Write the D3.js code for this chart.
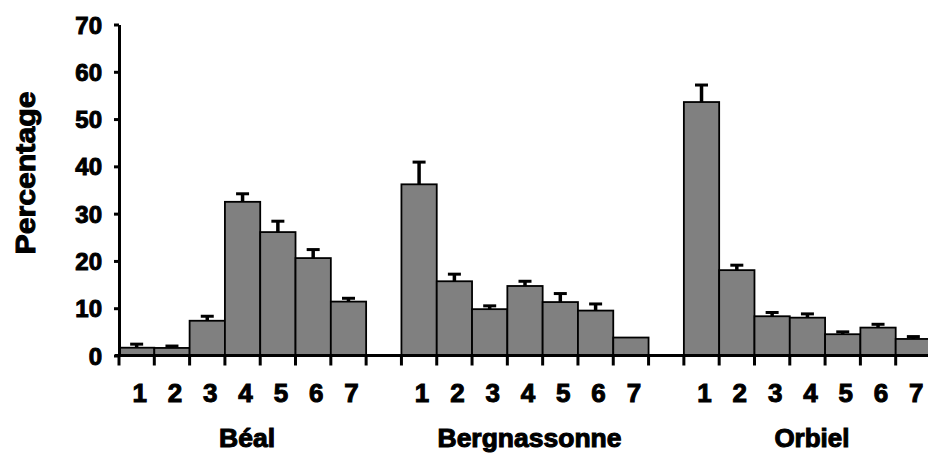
<!DOCTYPE html>
<html>
<head>
<meta charset="utf-8">
<script src="https://cdn.jsdelivr.net/npm/d3@7"></script>
<style>
  html, body { margin: 0; padding: 0; background: #fff; }
  text { font-family: "Liberation Sans", Arial, sans-serif; font-weight: bold; fill: #000; }
</style>
</head>
<body>
<svg id="chart" width="928" height="453"></svg>
<script>
// ---- data ----
const groups = ["Béal", "Bergnassonne", "Orbiel"];
const classes = ["1", "2", "3", "4", "5", "6", "7"];
const bealValues = [1.65, 1.6, 7.35, 32.5, 26.1, 20.6, 11.4];
const bealErrors = [0.75, 0.4, 0.95, 1.7, 2.3, 1.8, 0.7];
const bergValues = [36.2, 15.7, 9.8, 14.7, 11.3, 9.5, 3.8];
const bergErrors = [4.7, 1.5, 0.7, 1.0, 1.8, 1.4, 0];
const orbValues = [53.6, 18.05, 8.3, 8.0, 4.5, 5.9, 3.5];
const orbErrors = [3.6, 1.05, 0.8, 0.8, 0.5, 0.7, 0.5];
const yTicks = [0, 10, 20, 30, 40, 50, 60, 70];
const yLabel = "Percentage";

const seriesByGroup = {
  "Béal": { values: bealValues, errors: bealErrors },
  "Bergnassonne": { values: bergValues, errors: bergErrors },
  "Orbiel": { values: orbValues, errors: orbErrors }
};

const svg = d3.select("#chart");
const mLeft = 119, mRight = 931, mTop = 24.5, mBottom = 355.5;

const y = d3.scaleLinear().domain([0, 70]).range([mBottom, mTop]);
const xGroup = d3.scaleBand().domain(groups).range([mLeft, mRight]).paddingInner(1 / 8).paddingOuter(0);
const xInner = d3.scaleBand().domain(classes).range([0, xGroup.bandwidth()]).padding(0);

const data = [];
groups.forEach(g => classes.forEach((c, i) => {
  data.push({ group: g, cls: c, value: seriesByGroup[g].values[i], err: seriesByGroup[g].errors[i] });
}));

// bars
svg.append("g").selectAll("rect").data(data).join("rect")
  .attr("x", d => xGroup(d.group) + xInner(d.cls))
  .attr("y", d => y(d.value))
  .attr("width", xInner.bandwidth())
  .attr("height", d => y(0) - y(d.value))
  .attr("fill", "#808080")
  .attr("stroke", "#000")
  .attr("stroke-width", 1.8);

// error bars
const eb = svg.append("g").selectAll("g").data(data.filter(d => d.err > 0)).join("g");
eb.append("line")
  .attr("x1", d => xGroup(d.group) + xInner(d.cls) + xInner.bandwidth() / 2)
  .attr("x2", d => xGroup(d.group) + xInner(d.cls) + xInner.bandwidth() / 2)
  .attr("y1", d => y(d.value))
  .attr("y2", d => y(d.value + d.err))
  .attr("stroke", "#000").attr("stroke-width", 3.5);
eb.append("line")
  .attr("x1", d => xGroup(d.group) + xInner(d.cls) + xInner.bandwidth() / 2 - 6.5)
  .attr("x2", d => xGroup(d.group) + xInner(d.cls) + xInner.bandwidth() / 2 + 6.5)
  .attr("y1", d => y(d.value + d.err))
  .attr("y2", d => y(d.value + d.err))
  .attr("stroke", "#000").attr("stroke-width", 3);

// y axis
const yAxis = svg.append("g")
  .attr("transform", `translate(${mLeft},0)`)
  .call(d3.axisLeft(y).tickValues(yTicks).tickSize(5).tickSizeOuter(0).tickPadding(12));
yAxis.select(".domain").attr("stroke", "#000").attr("stroke-width", 3);
yAxis.selectAll(".tick line").attr("stroke", "#000").attr("stroke-width", 3);
yAxis.selectAll(".tick text")
  .attr("font-size", 24)
  .attr("font-family", "Liberation Sans, Arial, sans-serif")
  .attr("font-weight", "bold")
  .attr("stroke", "#000").attr("stroke-width", 1)
  .attr("dy", "0.36em");

// x axis line
svg.append("line")
  .attr("x1", mLeft - 4).attr("x2", 928)
  .attr("y1", y(0)).attr("y2", y(0))
  .attr("stroke", "#000").attr("stroke-width", 3);

// x ticks at bar boundaries
const boundaries = [];
groups.forEach(g => {
  classes.forEach(c => boundaries.push(xGroup(g) + xInner(c)));
  boundaries.push(xGroup(g) + xGroup.bandwidth());
});
svg.append("g").selectAll("line").data(boundaries).join("line")
  .attr("x1", d => d).attr("x2", d => d)
  .attr("y1", y(0)).attr("y2", y(0) + 10)
  .attr("stroke", "#000").attr("stroke-width", 3);

// class labels
svg.append("g").selectAll("text").data(data).join("text")
  .attr("x", d => xGroup(d.group) + xInner(d.cls) + xInner.bandwidth() / 2 + 3)
  .attr("y", 402)
  .attr("text-anchor", "middle")
  .attr("font-size", 26)
  .attr("stroke", "#000").attr("stroke-width", 1)
  .text(d => d.cls);

// group labels
const groupWidths = { "Béal": 56, "Bergnassonne": 184, "Orbiel": 75 };
svg.append("g").selectAll("text").data(groups).join("text")
  .attr("x", g => xGroup(g) + xGroup.bandwidth() / 2 + 4.5)
  .attr("y", 447)
  .attr("text-anchor", "middle")
  .attr("font-size", 25)
  .attr("textLength", g => groupWidths[g])
  .attr("lengthAdjust", "spacingAndGlyphs")
  .attr("stroke", "#000").attr("stroke-width", 1)
  .text(g => g);

// y axis title
svg.append("text")
  .attr("transform", `translate(35,173) rotate(-90)`)
  .attr("text-anchor", "middle")
  .attr("font-size", 28)
  .attr("textLength", 163)
  .attr("lengthAdjust", "spacingAndGlyphs")
  .attr("stroke", "#000").attr("stroke-width", 1)
  .text(yLabel);
</script>
</body>
</html>
